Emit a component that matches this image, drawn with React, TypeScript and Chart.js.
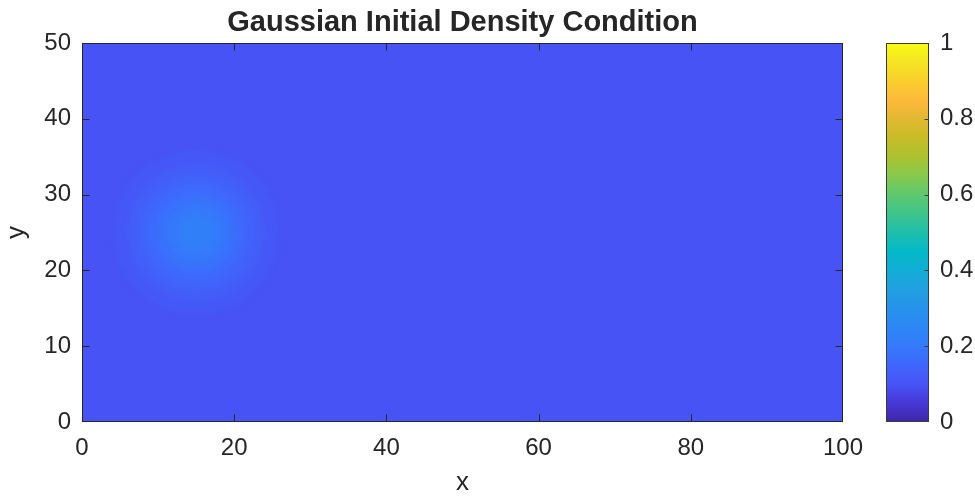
import React, { useEffect, useRef } from "react";
import { Chart, registerables } from "chart.js";

Chart.register(...registerables);

// ---- text ----
const TITLE = "Gaussian Initial Density Condition";
const X_LABEL = "x";
const Y_LABEL = "y";

// ---- axes ----
const X_MIN = 0;
const X_MAX = 100;
const X_STEP = 20;
const Y_MIN = 0;
const Y_MAX = 50;
const Y_STEP = 10;
const CB_MIN = 0;
const CB_MAX = 1;
const CB_STEP = 0.2;

// ---- density field ----
// uniform background density and a banded Gaussian bump (rings, outermost first)
const BACKGROUND_DENSITY = 0.1;
const BUMP_CENTER_X = 15;
const BUMP_CENTER_Y = 25;
const RING_OUTER_RADII = [10.8, 9.0, 7.6, 6.3, 5.0, 3.7, 2.3];
const RING_DENSITIES = [0.113, 0.128, 0.145, 0.163, 0.182, 0.202, 0.222];

// ---- colormap (parula-like) ----
const CMAP_POS = [0, 0.05, 0.1, 0.15, 0.2, 0.25, 0.3, 0.35, 0.4, 0.45, 0.5, 0.55, 0.6, 0.65, 0.7, 0.75, 0.8, 0.85, 0.9, 0.95, 1];
const CMAP_RGB: number[][] = [
  [62, 38, 168],
  [70, 55, 215],
  [71, 83, 245],
  [64, 102, 252],
  [52, 122, 251],
  [45, 134, 244],
  [40, 146, 236],
  [33, 160, 225],
  [18, 173, 213],
  [3, 185, 199],
  [32, 190, 170],
  [62, 197, 140],
  [95, 200, 110],
  [135, 201, 78],
  [172, 194, 48],
  [200, 188, 40],
  [226, 185, 50],
  [254, 185, 58],
  [250, 207, 45],
  [245, 229, 35],
  [249, 251, 20],
];

const FONT = "'Liberation Sans', Arial, Helvetica, sans-serif";
const INK = "#262626";

function cmap(v: number): string {
  const t = Math.min(1, Math.max(0, (v - CB_MIN) / (CB_MAX - CB_MIN)));
  let i = 0;
  while (i < CMAP_POS.length - 2 && t > CMAP_POS[i + 1]) i++;
  const f = (t - CMAP_POS[i]) / (CMAP_POS[i + 1] - CMAP_POS[i]);
  const a = CMAP_RGB[i];
  const b = CMAP_RGB[i + 1];
  const c = a.map((av, k) => Math.round(av + (b[k] - av) * f));
  return `rgb(${c[0]},${c[1]},${c[2]})`;
}

const heatPlugin = {
  id: "heat",
  beforeDatasetsDraw(chart: any) {
    const { ctx, chartArea: a, scales } = chart;
    const x = scales.x;
    const y = scales.y;
    ctx.save();
    ctx.beginPath();
    ctx.rect(a.left, a.top, a.right - a.left, a.bottom - a.top);
    ctx.clip();
    ctx.fillStyle = cmap(BACKGROUND_DENSITY);
    ctx.fillRect(a.left, a.top, a.right - a.left, a.bottom - a.top);
    const cx = x.getPixelForValue(BUMP_CENTER_X);
    const cy = y.getPixelForValue(BUMP_CENTER_Y);
    ctx.filter = "blur(2.5px)";
    RING_OUTER_RADII.forEach((r, i) => {
      const rx = Math.abs(x.getPixelForValue(BUMP_CENTER_X + r) - cx);
      const ry = Math.abs(y.getPixelForValue(BUMP_CENTER_Y + r) - cy);
      ctx.beginPath();
      ctx.ellipse(cx, cy, rx, ry, 0, 0, Math.PI * 2);
      ctx.fillStyle = cmap(RING_DENSITIES[i]);
      ctx.fill();
    });
    ctx.filter = "none";
    ctx.restore();
  },
  afterDatasetsDraw(chart: any) {
    const { ctx, chartArea: a, scales } = chart;
    const x = scales.x;
    const y = scales.y;
    const tl = 7.5;
    ctx.save();
    ctx.strokeStyle = INK;
    ctx.lineWidth = 1;
    ctx.beginPath();
    x.ticks.forEach((t: any) => {
      const px = Math.min(Math.round(x.getPixelForValue(t.value)) + 0.5, a.right - 0.5);
      ctx.moveTo(px, a.bottom);
      ctx.lineTo(px, a.bottom - tl);
      ctx.moveTo(px, a.top);
      ctx.lineTo(px, a.top + tl);
    });
    y.ticks.forEach((t: any) => {
      const py = Math.min(Math.round(y.getPixelForValue(t.value)) + 0.5, a.bottom - 0.5);
      ctx.moveTo(a.left, py);
      ctx.lineTo(a.left + tl, py);
      ctx.moveTo(a.right, py);
      ctx.lineTo(a.right - tl, py);
    });
    ctx.stroke();
    ctx.strokeRect(a.left + 0.5, a.top + 0.5, a.right - a.left - 1, a.bottom - a.top - 1);
    ctx.restore();
  },
};

const colorbarPlugin = {
  id: "colorbar",
  beforeDatasetsDraw(chart: any) {
    const { ctx, chartArea: a, scales } = chart;
    const y = scales.y;
    const y0 = y.getPixelForValue(CB_MIN);
    const y1 = y.getPixelForValue(CB_MAX);
    const g = ctx.createLinearGradient(0, y0, 0, y1);
    CMAP_POS.forEach((p, i) => {
      const c = CMAP_RGB[i];
      g.addColorStop(p, `rgb(${c[0]},${c[1]},${c[2]})`);
    });
    ctx.save();
    ctx.fillStyle = g;
    ctx.fillRect(a.left, y1, a.right - a.left, y0 - y1);
    ctx.restore();
  },
  afterDatasetsDraw(chart: any) {
    const { ctx, chartArea: a, scales } = chart;
    const y = scales.y;
    ctx.save();
    ctx.strokeStyle = "#3a3a3a";
    ctx.lineWidth = 1;
    ctx.beginPath();
    y.ticks.forEach((t: any) => {
      const py = Math.min(Math.round(y.getPixelForValue(t.value)) + 0.5, a.bottom - 0.5);
      ctx.moveTo(a.right, py);
      ctx.lineTo(a.right - 4.5, py);
    });
    ctx.stroke();
    ctx.strokeRect(a.left + 0.5, a.top + 0.5, a.right - a.left - 1, a.bottom - a.top - 1);
    ctx.restore();
  },
};

export default function App() {
  const mainRef = useRef<HTMLCanvasElement | null>(null);
  const cbRef = useRef<HTMLCanvasElement | null>(null);

  useEffect(() => {
    if (!mainRef.current || !cbRef.current) return;
    Chart.defaults.font.family = FONT;
    Chart.defaults.color = INK;

    const main = new Chart(mainRef.current, {
      type: "scatter",
      data: { datasets: [{ data: [], pointRadius: 0 }] },
      options: {
        animation: false,
        responsive: false,
        devicePixelRatio: 1,
        layout: { padding: { left: 0, right: 37, top: 0, bottom: 0 } },
        plugins: {
          legend: { display: false },
          tooltip: { enabled: false },
          title: {
            display: true,
            text: TITLE,
            fullSize: false,
            color: INK,
            font: { size: 29, weight: "bold", lineHeight: 1, family: FONT },
            padding: { top: 8.5, bottom: 5.5 },
          },
        },
        scales: {
          x: {
            type: "linear",
            min: X_MIN,
            max: X_MAX,
            ticks: { stepSize: X_STEP, padding: 12, color: INK, font: { size: 24, family: FONT } },
            grid: { display: false, drawTicks: false },
            border: { display: false },
            title: {
              display: true,
              text: X_LABEL,
              color: INK,
              font: { size: 26, lineHeight: 1, family: FONT },
              padding: { top: 0, bottom: 0 },
            },
            afterFit(s: any) {
              s.height = 74;
            },
          },
          y: {
            type: "linear",
            min: Y_MIN,
            max: Y_MAX,
            ticks: { stepSize: Y_STEP, padding: 11, color: INK, font: { size: 24, family: FONT } },
            grid: { display: false, drawTicks: false },
            border: { display: false },
            title: {
              display: true,
              text: Y_LABEL,
              color: INK,
              font: { size: 26, lineHeight: 1, family: FONT },
              padding: { top: 4, bottom: 0 },
            },
            afterFit(s: any) {
              s.width = 82;
            },
          },
        },
      } as any,
      plugins: [heatPlugin],
    });

    const cb = new Chart(cbRef.current, {
      type: "scatter",
      data: { datasets: [{ data: [], pointRadius: 0 }] },
      options: {
        animation: false,
        responsive: false,
        devicePixelRatio: 1,
        layout: { padding: { left: 6, right: 0, top: 43, bottom: 74 } },
        plugins: { legend: { display: false }, tooltip: { enabled: false }, title: { display: false } },
        scales: {
          x: { type: "linear", display: false, min: 0, max: 1 },
          y: {
            type: "linear",
            position: "right",
            min: CB_MIN,
            max: CB_MAX,
            ticks: {
              stepSize: CB_STEP,
              padding: 11,
              color: INK,
              font: { size: 24, family: FONT },
              callback: (v: any) => String(Number(Number(v).toFixed(1))),
            },
            grid: { display: false, drawTicks: false },
            border: { display: false },
            afterFit(s: any) {
              s.width = 46;
            },
          },
        },
      } as any,
      plugins: [colorbarPlugin],
    });

    return () => {
      main.destroy();
      cb.destroy();
    };
  }, []);

  return (
    <div style={{ position: "fixed", left: 0, top: 0, width: 975, height: 496, background: "#fff" }}>
      <canvas ref={mainRef} width={880} height={496} style={{ position: "absolute", left: 0, top: 0 }} />
      <canvas ref={cbRef} width={95} height={496} style={{ position: "absolute", left: 880, top: 0 }} />
    </div>
  );
}
